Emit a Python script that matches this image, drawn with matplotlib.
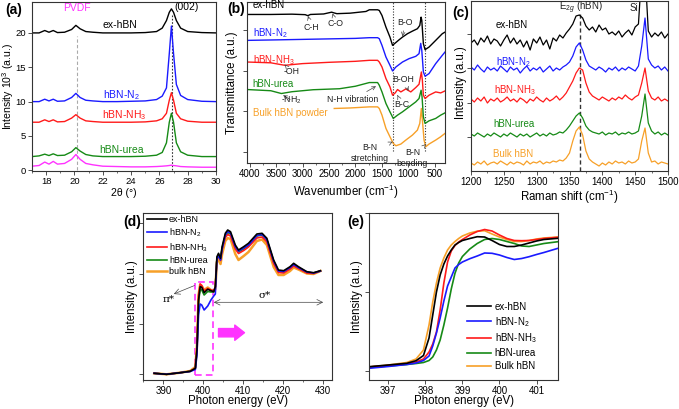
import matplotlib
matplotlib.use('Agg')
import matplotlib.pyplot as plt
from matplotlib.ticker import MultipleLocator
from matplotlib.patches import Rectangle

plt.rcParams['font.family'] = ['Liberation Sans', 'DejaVu Sans']
plt.rcParams['mathtext.fontset'] = 'custom'
plt.rcParams['mathtext.rm'] = 'Liberation Sans'
plt.rcParams['mathtext.it'] = 'Liberation Sans:italic'
plt.rcParams['axes.linewidth'] = 0.8
plt.rcParams['axes.edgecolor'] = '#333333'

BLACK = '#000000'
BLUE = '#1a1aff'
RED = '#ff1a1a'
GREEN = '#168a16'
ORANGE = '#f7a028'
MAG = '#ff33ff'

# ---------------- (a) XRD ----------------
xrd_2theta = [17, 17.5, 17.9, 18.2, 18.5, 18.8, 19.3, 19.8, 20.1, 20.4, 20.8, 21.3, 22, 23, 24, 25,
              25.8, 26.2, 26.5, 26.7, 26.85, 27.0, 27.2, 27.5, 28, 29, 30]
xrd_ex = [20.0, 20.0, 20.35, 20.1, 20.35, 20.05, 20.1, 20.5, 21.1, 20.6, 20.2, 20.1, 20.0, 20.0, 20.0, 20.05,
          20.2, 20.7, 21.8, 23.0, 23.5, 23.0, 21.8, 20.7, 20.2, 20.05, 20.0]
xrd_n2 = [10.0, 10.0, 10.35, 10.1, 10.35, 10.05, 10.1, 10.6, 11.2, 10.6, 10.2, 10.1, 10.0, 10.0, 10.05, 10.1,
          10.3, 10.8, 12.0, 17.0, 21.0, 17.0, 12.5, 10.9, 10.3, 10.05, 10.0]
xrd_nh3 = [7.0, 7.0, 7.35, 7.1, 7.35, 7.05, 7.1, 7.6, 8.1, 7.6, 7.2, 7.1, 7.0, 7.0, 7.0, 7.05,
           7.2, 7.5, 8.3, 10.2, 11.3, 10.2, 8.3, 7.5, 7.15, 7.0, 7.0]
xrd_urea = [2.0, 2.1, 2.35, 2.15, 2.4, 2.15, 2.2, 2.7, 3.3, 2.8, 2.3, 2.1, 2.0, 2.0, 2.0, 2.05,
            2.2, 2.6, 4.0, 7.0, 8.3, 7.0, 4.0, 2.7, 2.2, 2.0, 2.0]
xrd_pvdf = [0.6, 0.7, 1.2, 0.9, 1.3, 0.9, 1.0, 1.6, 2.3, 1.6, 1.0, 0.8, 0.6, 0.55, 0.5, 0.5,
            0.55, 0.6, 0.65, 0.7, 0.75, 0.7, 0.65, 0.55, 0.5, 0.45, 0.45]

# ---------------- (b) FTIR ----------------
ir_ex_x = [4050, 3600, 3200, 2950, 2900, 2850, 2600, 2450, 2400, 2350, 2100, 1800, 1736, 1580, 1548, 1497,
           1422, 1346, 1297, 1247, 1171, 1109, 1015, 921, 827, 782, 757, 744, 714, 682, 607, 481, 356, 305]
ir_ex_y = [149, 149, 149.3, 148.8, 147.8, 149, 149.5, 151.3, 150.5, 149.8, 150.3, 152, 153.7, 153.7, 153, 148,
           136.3, 126.3, 118, 120.3, 123.7, 126.3, 129.7, 132.3, 134.7, 138, 146.3, 143, 119.7, 113.7, 116.3,
           123, 129.7, 131.3]
ir_n2_x = [4050, 3500, 3000, 2500, 2000, 1736, 1580, 1548, 1497, 1422, 1346, 1297, 1234, 1109, 984, 858, 796,
           764, 744, 714, 682, 607, 481, 356, 305]
ir_n2_y = [123, 123.5, 124, 124.5, 125, 125.7, 125.7, 124.7, 118, 106.3, 98, 92.3, 96.3, 101.3, 104.7, 107,
           109.7, 120, 113, 91.3, 87, 89.7, 99.7, 108, 111.3]
ir_nh3_x = [4050, 3600, 3335, 3000, 2500, 2000, 1736, 1580, 1548, 1497, 1422, 1346, 1297, 1247, 1203, 1140,
            1046, 952, 858, 796, 752, 733, 714, 682, 607, 481, 387, 305]
ir_nh3_y = [101.3, 100.5, 98, 99.7, 101, 102, 103, 103, 101.3, 96.3, 84.7, 76.3, 68, 70.3, 73.7, 71.3, 74.3,
            71.3, 75.7, 79, 91.3, 83, 68, 64.7, 68, 71.3, 70.3, 72.3]
ir_urea_x = [4050, 3600, 3400, 3200, 2800, 2300, 2000, 1736, 1580, 1548, 1497, 1422, 1346, 1284, 1203, 1109,
             984, 858, 796, 757, 739, 714, 682, 607, 481, 387, 305]
ir_urea_y = [73.7, 72.5, 69.7, 71.5, 73.5, 74.5, 77, 80.7, 80.7, 78, 71.3, 59.7, 51.3, 44.7, 48, 51.3, 56.3,
             61.3, 64.7, 73, 66.3, 46.3, 39.7, 42.3, 44.7, 48, 50.3]
ir_bulk_x = [2400, 2100, 1736, 1580, 1548, 1497, 1422, 1346, 1284, 1234, 1140, 1046, 921, 827, 782, 752, 733,
             701, 670, 607, 481, 387, 305]
ir_bulk_y = [54.7, 55.2, 56.3, 56.3, 54.7, 48, 34.7, 26.3, 19.7, 17.3, 19, 23, 28, 33, 39.7, 54.7, 43, 23,
             16.3, 19, 23, 26.3, 29.7]

# ---------------- (c) Raman ----------------
raman_shift = list(range(1200, 1501, 5))
raman_ex = [128, 131, 126, 133, 129, 135, 127, 132, 130, 125, 131, 136, 128, 133, 127, 131, 124, 130, 121, 132,
            128, 134, 126, 131, 122, 133, 130, 136, 133, 138, 142, 147, 155, 156, 153, 145, 141, 144, 139, 146,
            141, 143, 137, 139, 136, 140, 134, 138, 141, 136, 144, 147, 200, 200, 140, 134, 138, 135, 139, 133, 137]
raman_n2 = [104, 101, 106, 102, 99, 104, 101, 103, 100, 105, 102, 99, 104, 101, 103, 98, 102, 105, 100, 103,
            101, 104, 99, 102, 105, 100, 103, 101, 104, 106, 109, 115, 124, 128, 121, 111, 105, 103, 101, 104,
            102, 99, 103, 101, 104, 100, 103, 101, 104, 102, 100, 105, 125, 153, 112, 106, 103, 105, 101, 104, 100]
raman_nh3 = [72, 69, 73, 70, 74, 68, 72, 70, 73, 69, 71, 74, 70, 72, 69, 73, 71, 68, 72, 70,
             74, 71, 69, 73, 70, 72, 75, 71, 74, 78, 84, 90, 98, 103, 101, 88, 79, 75, 73, 71,
             74, 72, 70, 73, 71, 74, 72, 76, 73, 71, 74, 76, 88, 103, 80, 73, 71, 74, 70, 72, 70]
raman_urea = [37, 35, 38, 36, 34, 37, 35, 38, 36, 34, 37, 35, 38, 36, 34, 37, 35, 37, 34, 36,
              38, 35, 37, 35, 38, 36, 37, 39, 38, 41, 45, 50, 55, 58, 53, 45, 41, 39, 38, 37,
              39, 36, 38, 37, 39, 36, 38, 37, 39, 37, 38, 40, 55, 77, 48, 40, 37, 39, 36, 38, 36]
raman_bulk = [8, 6, 9, 7, 10, 6, 8, 9, 7, 10, 8, 6, 9, 7, 9, 8, 6, 10, 7, 9,
              8, 10, 7, 9, 8, 10, 9, 11, 10, 13, 18, 30, 40, 44, 36, 20, 12, 9, 7, 5,
              8, 6, 9, 7, 10, 8, 9, 7, 10, 8, 9, 12, 30, 43, 18, 9, 10, 7, 9, 8, 7]

# ---------------- (d) NEXAFS wide ----------------
nex_e = [387.7, 390.8, 394.2, 396.7, 398.0, 398.4, 398.8, 399.2, 399.6, 400.2, 401.1, 401.9, 402.6, 403.0,
         403.4, 403.8, 404.3, 404.7, 405.5, 406.1, 406.8, 408.0, 408.8, 410.1, 411.3, 413.4, 414.7, 415.9,
         417.6, 418.8, 420.1, 421.7, 422.6, 423.8, 425.9, 427.6, 429.3]
nex_ex = [6.7, 5.7, 7.3, 8.7, 11.7, 30, 80, 93.3, 92.7, 87.3, 90.7, 89.3, 88.3, 93.3, 123.3, 126.7, 121.7,
          133.3, 146.7, 150, 148.3, 135, 130, 133.3, 136.7, 146, 146.7, 141.7, 120, 110, 109.3, 113.3, 116.7,
          113.3, 108.3, 107.3, 109.3]
nex_n2 = [6.7, 5.7, 7.3, 8.5, 10.5, 25, 65, 76, 75, 70, 74, 80, 84, 86, 121, 124, 120, 131, 145, 148.5, 147,
          133.5, 129, 132, 135, 144.5, 145.5, 140.5, 119, 109, 108.5, 112.5, 115.5, 112.5, 108, 107, 109]
nex_nh3 = [6.7, 5.7, 7.3, 8.7, 12, 32, 84, 96, 94.5, 89, 91.5, 90, 89, 93, 121, 124, 119.5, 130.5, 142.5,
           145.5, 144, 131, 126.5, 129.5, 133, 142, 143, 138, 116.5, 107.5, 107, 111, 114, 111.5, 107, 106.5, 109]
nex_urea = [6.7, 5.7, 7.3, 8.7, 11.5, 30, 78, 91, 90, 85, 88.5, 88, 88, 92.5, 122, 125, 120.5, 132, 144.5,
            147.5, 146, 133, 128, 131, 134.5, 144, 145, 140, 118, 108.5, 108, 112, 115, 112, 107.5, 107, 109]
nex_bulk = [6.7, 5.7, 7.3, 9, 13, 35, 85, 95.5, 94, 90, 92.5, 90, 89, 91, 118, 121, 116, 126, 139, 142, 141,
            126, 120, 124, 128, 139, 140.5, 135, 113, 105, 105, 109, 112.5, 110.5, 106.5, 106, 109]

# ---------------- (e) NEXAFS edge ----------------
edge_e = [396.48, 397.0, 397.5, 397.75, 397.95, 398.1, 398.2, 398.3, 398.4, 398.5, 398.6, 398.7, 398.8, 398.9,
          399.0, 399.2, 399.4, 399.6, 399.8, 400.0, 400.2, 400.4, 400.6, 400.8, 401.0, 401.2, 401.58]
edge_ex = [13.3, 15, 16.7, 19.3, 24.5, 42, 65, 88, 105, 116, 124, 130, 135, 137.5, 139.5, 141.5, 143.3, 143,
           139.5, 135.5, 133.5, 133.5, 135, 137, 139, 140.5, 141.7]
edge_n2 = [11.7, 13.5, 15.5, 17, 19.5, 24, 34, 47, 62, 79, 94, 103, 112, 115.5, 118, 121.3, 124, 127, 126.7,
           125, 122.5, 120.5, 121.5, 123.3, 125.5, 127.5, 131.7]
edge_nh3 = [13, 14.5, 16, 18, 21, 28, 36, 48, 70, 97, 118, 129, 134.5, 138, 140.5, 145, 148.5, 150.5, 149,
            145, 141.5, 139.5, 139.3, 139.5, 140.5, 141.5, 142.7]
edge_urea = [12.5, 14, 15.5, 16.5, 17.5, 19.5, 23, 30, 40, 55, 72, 91, 106.7, 117, 123.5, 131, 136.5, 140.5,
             141.5, 140.5, 138.5, 136.5, 134, 133.5, 135, 136.5, 138.3]
edge_bulk = [13, 15, 17.5, 21, 30, 55, 78, 97, 112, 122, 130, 135, 138.5, 141.5, 144, 147, 148.8, 149.3, 146,
             143, 140.5, 138.5, 138.5, 139.5, 141, 142, 143]

names_d = ['ex-hBN', 'hBN-N$_2$', 'hBN-NH$_3$', 'hBN-urea', 'bulk hBN']
names_e = ['ex-hBN', 'hBN-N$_2$', 'hBN-NH$_3$', 'hBN-urea', 'Bulk hBN']

W, H = 679, 409
fig = plt.figure(figsize=(W / 100, H / 100), dpi=100)


def rect(l, t, r, b):
    return [l / W, 1 - b / H, (r - l) / W, (b - t) / H]


def style(ax):
    ax.tick_params(which='major', direction='out', length=3, width=0.6, labelsize=7, pad=1.5, color='#333333')
    ax.tick_params(which='minor', direction='out', length=1.6, width=0.5, color='#333333')


def labels(ax, xl, yl, xfrac, yfrac, size=8.3):
    ax.set_xlabel(xl, fontsize=size)
    ax.set_ylabel(yl, fontsize=size)
    ax.xaxis.set_label_coords(0.5, xfrac)
    ax.yaxis.set_label_coords(yfrac, 0.5)
    ax.xaxis.label.set_va('center')
    ax.yaxis.label.set_va('center')


ANN = 6.3

# ---- (a)
ax = fig.add_axes(rect(32, 2, 216, 171))
style(ax)
ax.tick_params(which='major', labelsize=6.8)
ax.plot([20.15, 20.15], [0, 19.5], ls=(0, (3, 2)), color='#aaaaaa', lw=0.8)
ax.plot([26.9, 26.9], [0, 22.6], ls=(0, (1.5, 1.5)), color='#333333', lw=0.8)
ax.plot(xrd_2theta, xrd_pvdf, color=MAG, lw=1.0)
ax.plot(xrd_2theta, xrd_urea, color=GREEN, lw=1.0)
ax.plot(xrd_2theta, xrd_nh3, color=RED, lw=1.0)
ax.plot(xrd_2theta, xrd_n2, color=BLUE, lw=1.0)
ax.plot(xrd_2theta, xrd_ex, color=BLACK, lw=1.0)
ax.set_xlim(17, 30)
ax.set_ylim(-0.1, 24.5)
ax.xaxis.set_major_locator(MultipleLocator(2))
ax.xaxis.set_minor_locator(MultipleLocator(1))
ax.set_yticks([0, 5, 10, 15, 20])
labels(ax, '2θ (°)', 'Intensity 10$^3$ (a.u.)', -0.13, -0.128, size=7.6)
ax.text(20.2, 23.6, 'PVDF', color=MAG, fontsize=7.5, ha='center', va='center')
ax.text(27.95, 23.7, '(002)', color=BLACK, fontsize=7.5, ha='center', va='center')
ax.text(23.2, 21.1, 'ex-hBN', color=BLACK, fontsize=7.5, ha='center', va='center')
ax.text(23.3, 11.0, 'hBN-N$_2$', color=BLUE, fontsize=7.5, ha='center', va='center')
ax.text(23.5, 8.0, 'hBN-NH$_3$', color=RED, fontsize=7.5, ha='center', va='center')
ax.text(23.3, 2.9, 'hBN-urea', color=GREEN, fontsize=7.5, ha='center', va='center')
fig.text(5 / W, 1 - 10 / H, '(a)', fontsize=10, fontweight='bold', va='center')

# ---- (b)
ax = fig.add_axes(rect(247, 2, 445, 163))
style(ax)
for xv in [1284, 682]:
    ax.plot([xv, xv], [12, 161], ls=(0, (1, 1.5)), color='#333333', lw=0.8)
ax.plot(ir_bulk_x, ir_bulk_y, color=ORANGE, lw=1.0)
ax.plot(ir_urea_x, ir_urea_y, color=GREEN, lw=1.0)
ax.plot(ir_nh3_x, ir_nh3_y, color=RED, lw=1.0)
ax.plot(ir_n2_x, ir_n2_y, color=BLUE, lw=1.0)
ax.plot(ir_ex_x, ir_ex_y, color=BLACK, lw=1.0)
ax.set_xlim(4050, 305)
ax.set_ylim(0, 161.5)
ax.set_xticks([4000, 3500, 3000, 2500, 2000, 1500, 1000, 500])
ax.xaxis.set_minor_locator(MultipleLocator(250))
ax.set_yticks([11, 52, 92, 133])
ax.set_yticklabels([])
labels(ax, 'Wavenumber (cm$^{-1}$)', 'Transmittance (a.u.)', -0.18, -0.075)
ax.text(3940, 158, 'ex-hBN', color=BLACK, fontsize=7, va='center')
ax.text(3940, 130.3, 'hBN-N$_2$', color=BLUE, fontsize=7, va='center')
ax.text(3940, 103.7, 'hBN-NH$_3$', color=RED, fontsize=7, va='center')
ax.text(3940, 79.7, 'hBN-urea', color=GREEN, fontsize=7, va='center')
ax.text(3940, 49.7, 'Bulk hBN powder', color=ORANGE, fontsize=7, va='center')
arw = dict(arrowstyle='->', lw=0.5, color='#444444', shrinkA=1, shrinkB=0)
annos = [
    ('C-H', (2897, 147.5), (2828, 136.3)),
    ('C-O', (2430, 150), (2376, 139.7)),
    ('B-O', (1109, 127), (1062, 141.3)),
    ('-OH', (3336, 98.7), (3211, 91.3)),
    ('B-OH', (996, 72.3), (1093, 84)),
    ('-NH$_2$', (3367, 68), (3211, 63)),
    ('N-H vibration', (1610, 77), (2050, 63.7)),
    ('B-C', (1203, 68), (1125, 59)),
    ('B-N\nstretching', (1297, 21.3), (1736, 10)),
    ('B-N\nbending', (663, 19), (921, 5)),
]
for t, xy, xyt in annos:
    ax.annotate(t, xy=xy, xytext=xyt, fontsize=ANN, ha='center', va='center', color='#222222',
                arrowprops=arw, linespacing=1.3)
fig.text(227 / W, 1 - 9 / H, '(b)', fontsize=10, fontweight='bold', va='center')

# ---- (c)
ax = fig.add_axes(rect(471, 1, 668, 171))
style(ax)
ax.plot([1366, 1366], [0, 158], ls=(0, (3, 2)), color='#333333', lw=1.0)
ax.plot(raman_shift, raman_bulk, color=ORANGE, lw=0.9)
ax.plot(raman_shift, raman_urea, color=GREEN, lw=0.9)
ax.plot(raman_shift, raman_nh3, color=RED, lw=0.9)
ax.plot(raman_shift, raman_n2, color=BLUE, lw=0.9)
ax.plot(raman_shift, raman_ex, color=BLACK, lw=0.9)
ax.set_xlim(1200, 1500)
ax.set_ylim(0, 170)
ax.xaxis.set_major_locator(MultipleLocator(50))
ax.xaxis.set_minor_locator(MultipleLocator(25))
ax.set_yticks([34, 68, 103, 137])
ax.set_yticklabels([])
labels(ax, 'Raman shift (cm$^{-1}$)', 'Intensity (a.u.)', -0.15, -0.05)
ax.yaxis.set_label_coords(-0.05, 0.52)
ax.text(1262, 146, 'ex-hBN', color=BLACK, fontsize=7, ha='center', va='center')
ax.text(1264, 109, 'hBN-N$_2$', color=BLUE, fontsize=7, ha='center', va='center')
ax.text(1267, 81, 'hBN-NH$_3$', color=RED, fontsize=7, ha='center', va='center')
ax.text(1266, 47, 'hBN-urea', color=GREEN, fontsize=7, ha='center', va='center')
ax.text(1264, 17, 'Bulk hBN', color=ORANGE, fontsize=7, ha='center', va='center')
ax.text(1368, 163.5, 'E$_{2g}$ (hBN)', color='#222222', fontsize=7, ha='center', va='center')
ax.text(1448, 163, 'Si', color='#222222', fontsize=7, ha='center', va='center')
fig.text(452 / W, 1 - 13 / H, '(c)', fontsize=10, fontweight='bold', va='center')

# ---- (d)
ax = fig.add_axes(rect(143, 213, 332, 380))
style(ax)
cols = [BLACK, BLUE, RED, GREEN, ORANGE]
series_d = [nex_ex, nex_n2, nex_nh3, nex_urea, nex_bulk]
handles = [None] * 5
for i in [4, 3, 2, 1, 0]:
    lw = 1.8 if i == 4 else 1.2
    handles[i], = ax.plot(nex_e, series_d[i], color=cols[i], lw=lw, label=names_d[i])
ax.set_xlim(384.9, 432.2)
ax.set_ylim(0, 167)
ax.xaxis.set_major_locator(MultipleLocator(10))
ax.xaxis.set_minor_locator(MultipleLocator(5))
ax.set_yticks([6, 56, 106, 157])
ax.set_yticklabels([])
labels(ax, 'Photon energy (eV)', 'Intensity (a.u.)', -0.125, -0.06)
ax.legend(handles=handles, loc='upper left', bbox_to_anchor=(-0.01, 1.02), frameon=False, fontsize=6.5,
          handlelength=2.3, handletextpad=0.2, labelspacing=0.25, borderaxespad=0.2)
ax.add_patch(Rectangle((397.8, 5), 4.6, 93.3, fill=False, ls=(0, (4, 2.5)), ec=MAG, lw=1.2))
ax.annotate('', xy=(410.3, 47.3), xytext=(403.8, 47.3),
            arrowprops=dict(arrowstyle='simple,head_width=1.1,head_length=0.7,tail_width=0.6',
                            color=MAG, mutation_scale=10, shrinkA=0, shrinkB=0))
ax.text(391.2, 80, 'π*', fontsize=7.5, ha='center', va='center', family='DejaVu Serif')
ax.annotate('', xy=(392.6, 86), xytext=(397.8, 94.5),
            arrowprops=dict(arrowstyle='->', lw=0.5, color='#444444', shrinkA=0, shrinkB=0))
ax.text(415.3, 84, 'σ*', fontsize=7.5, ha='center', va='center', family='DejaVu Serif')
ax.annotate('', xy=(402.6, 77.7), xytext=(430.0, 77.7),
            arrowprops=dict(arrowstyle='<->', lw=0.5, color='#444444', shrinkA=0, shrinkB=0))
fig.text(123 / W, 1 - 222 / H, '(d)', fontsize=10, fontweight='bold', va='center')

# ---- (e)
ax = fig.add_axes(rect(369, 213, 558, 380))
style(ax)
series_e = [edge_ex, edge_n2, edge_nh3, edge_urea, edge_bulk]
handles = [None] * 5
for i in [4, 3, 2, 1, 0]:
    handles[i], = ax.plot(edge_e, series_e[i], color=cols[i], lw=1.2, label=names_e[i])
ax.set_xlim(396.48, 401.58)
ax.set_ylim(0, 167)
ax.xaxis.set_major_locator(MultipleLocator(1))
ax.set_yticks([9, 88, 167])
ax.set_yticklabels([])
labels(ax, 'Photon energy (eV)', 'Intensity (a.u.)', -0.125, -0.065)
ax.legend(handles=handles, loc='lower left', bbox_to_anchor=(0.5, 0.03), frameon=False, fontsize=7,
          handlelength=2.4, handletextpad=0.4, labelspacing=0.3, borderaxespad=0)
fig.text(347 / W, 1 - 222 / H, '(e)', fontsize=10, fontweight='bold', va='center')

fig.savefig('out.png', dpi=100)
